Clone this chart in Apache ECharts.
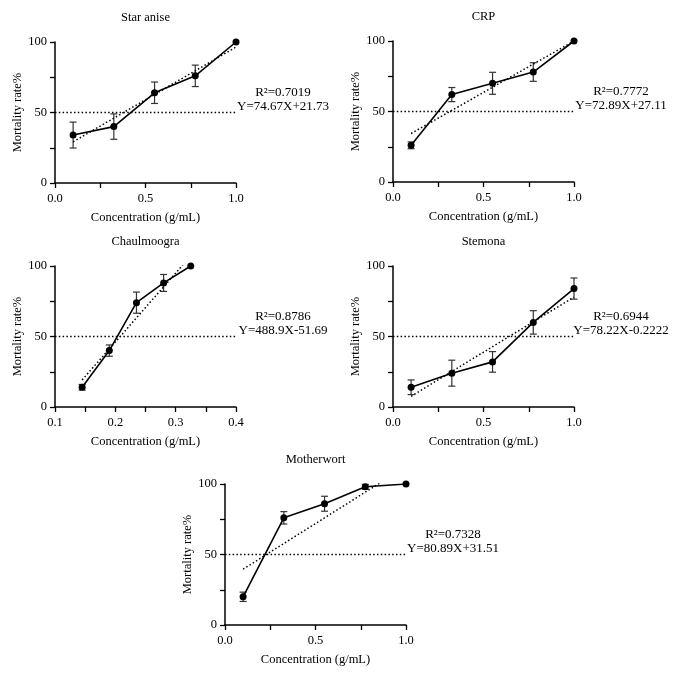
<!DOCTYPE html>
<html><head><meta charset="utf-8">
<script src="https://cdn.jsdelivr.net/npm/echarts@6/dist/echarts.min.js"></script>
<style>html,body{margin:0;padding:0;background:#fff}#c{width:685px;height:676px}</style>
</head><body><div id="c"></div>
<script>
// ---- data ----
const titles = ['Star anise', 'CRP', 'Chaulmoogra', 'Stemona', 'Motherwort'];
const concX = [0.1, 0.325, 0.55, 0.775, 1.0];
const chaulX = [0.145, 0.19, 0.235, 0.28, 0.325];
const starAnise = [34, 40, 64, 76, 100];
const starAniseErr = [9.2, 9, 7.6, 7.6, 0];
const crp = [26, 62, 70, 78, 100];
const crpErr = [2.4, 5, 7.8, 6.6, 0];
const chaul = [14, 40, 74, 88, 100];
const chaulErr = [2, 4, 7.5, 6, 0];
const stemona = [14, 24, 32, 60, 84];
const stemonaErr = [5.2, 9.2, 7.3, 8.3, 7.5];
const mother = [20, 76, 86, 98, 100];
const motherErr = [3.3, 4.4, 5.3, 1.7, 0];
const fitSlope = [74.67, 72.89, 488.9, 78.22, 80.89];
const fitIntercept = [21.73, 27.11, -51.69, -0.2222, 31.51];
const r2Labels = ['R²=0.7019', 'R²=0.7772', 'R²=0.8786', 'R²=0.6944', 'R²=0.7328'];
const eqLabels = ['Y=74.67X+21.73', 'Y=72.89X+27.11', 'Y=488.9X-51.69', 'Y=78.22X-0.2222', 'Y=80.89X+31.51'];
const xRanges = [[0, 1], [0, 1], [0.1, 0.4], [0, 1], [0, 1]];
const xIntervals = [0.25, 0.25, 0.05, 0.25, 0.25];
const threshold = 50;

const panels = [
  {x: concX, y: starAnise, e: starAniseErr},
  {x: concX, y: crp, e: crpErr},
  {x: chaulX, y: chaul, e: chaulErr},
  {x: concX, y: stemona, e: stemonaErr},
  {x: concX, y: mother, e: motherErr}
];
// ---- layout ----
const grids = [
  {left: 55, top: 42}, {left: 393, top: 41},
  {left: 55, top: 266}, {left: 393, top: 266},
  {left: 225, top: 484}
];
const GW = 181, GH = 141;
const FONT = "'Liberation Serif','Times New Roman',serif";

const option = {
  animation: false,
  backgroundColor: '#fff',
  grid: grids.map(g => ({left: g.left, top: g.top, width: GW, height: GH})),
  xAxis: [], yAxis: [], series: [], graphic: []
};

panels.forEach((p, i) => {
  const isChaul = xIntervals[i] < 0.1;
  option.xAxis.push({
    type: 'value', gridIndex: i, min: xRanges[i][0], max: xRanges[i][1], interval: xIntervals[i],
    splitLine: {show: false},
    axisLine: {show: true, lineStyle: {color: '#000', width: 1.5}},
    axisTick: {show: true, length: 5, lineStyle: {color: '#000', width: 1.3}},
    axisLabel: {
      color: '#000', fontFamily: FONT, fontSize: 12.5, margin: 9,
      formatter: v => {
        const k = Math.round(v * 100);
        if (isChaul) return k % 10 === 0 ? v.toFixed(1) : '';
        return k % 50 === 0 ? v.toFixed(1) : '';
      }
    },
    name: 'Concentration (g/mL)', nameLocation: 'middle', nameGap: 28,
    nameTextStyle: {color: '#000', fontFamily: FONT, fontSize: 12.5}
  });
  option.yAxis.push({
    type: 'value', gridIndex: i, min: 0, max: 100, interval: 25,
    splitLine: {show: false},
    axisLine: {show: true, lineStyle: {color: '#000', width: 1.5}},
    axisTick: {show: true, length: 5, lineStyle: {color: '#000', width: 1.3}},
    axisLabel: {
      color: '#000', fontFamily: FONT, fontSize: 12.5, margin: 8,
      formatter: v => (v % 50 === 0 ? String(v) : '')
    },
    name: 'Mortality rate%', nameLocation: 'middle', nameGap: 28, nameRotate: 90,
    nameTextStyle: {color: '#000', fontFamily: FONT, fontSize: 12.5}
  });
  // threshold line
  option.series.push({
    type: 'line', xAxisIndex: i, yAxisIndex: i, symbol: 'none', silent: true,
    data: [[xRanges[i][0], threshold], [xRanges[i][1], threshold]],
    lineStyle: {color: '#000', width: 1.5, type: [1.5, 2.3]}
  });
  // fit line
  const x0 = p.x[0], x1 = p.x[p.x.length - 1];
  option.series.push({
    type: 'line', xAxisIndex: i, yAxisIndex: i, symbol: 'none', silent: true, clip: true,
    data: [[x0, fitSlope[i] * x0 + fitIntercept[i]], [x1, fitSlope[i] * x1 + fitIntercept[i]]],
    lineStyle: {color: '#000', width: 1.5, type: [1.5, 2.3]}
  });
  // error bars
  option.series.push({
    type: 'custom', xAxisIndex: i, yAxisIndex: i, silent: true,
    data: p.x.map((xv, j) => [xv, p.y[j] - p.e[j], p.y[j] + p.e[j]]),
    renderItem: (params, api) => {
      if (api.value(2) - api.value(1) <= 0) return null;
      const lo = api.coord([api.value(0), api.value(1)]);
      const hi = api.coord([api.value(0), api.value(2)]);
      const hw = 3.5;
      const st = {stroke: '#333', lineWidth: 1.2};
      return {type: 'group', children: [
        {type: 'line', shape: {x1: lo[0], y1: lo[1], x2: hi[0], y2: hi[1]}, style: st},
        {type: 'line', shape: {x1: lo[0] - hw, y1: lo[1], x2: lo[0] + hw, y2: lo[1]}, style: st},
        {type: 'line', shape: {x1: hi[0] - hw, y1: hi[1], x2: hi[0] + hw, y2: hi[1]}, style: st}
      ]};
    },
    z: 3
  });
  // data line
  option.series.push({
    type: 'line', xAxisIndex: i, yAxisIndex: i, symbol: 'circle', symbolSize: 7,
    data: p.x.map((xv, j) => [xv, p.y[j]]),
    lineStyle: {color: '#000', width: 1.6}, itemStyle: {color: '#000'}, z: 4
  });
  const g = grids[i];
  option.graphic.push(
    {type: 'text', silent: true, position: [g.left + GW / 2, g.top - 24],
     style: {text: titles[i], x: 0, y: 0, font: "12.5px " + FONT, fill: '#000', textAlign: 'center', textVerticalAlign: 'middle'}},
    {type: 'text', silent: true, position: [g.left + 228, g.top + 51],
     style: {text: r2Labels[i], x: 0, y: 0, font: "13px " + FONT, fill: '#000', textAlign: 'center', textVerticalAlign: 'middle'}},
    {type: 'text', silent: true, position: [g.left + 228, g.top + 65],
     style: {text: eqLabels[i], x: 0, y: 0, font: "13px " + FONT, fill: '#000', textAlign: 'center', textVerticalAlign: 'middle'}}
  );
});

const chart = echarts.init(document.getElementById('c'), null, {renderer: 'canvas'});
chart.setOption(option);
</script>
</body></html>
